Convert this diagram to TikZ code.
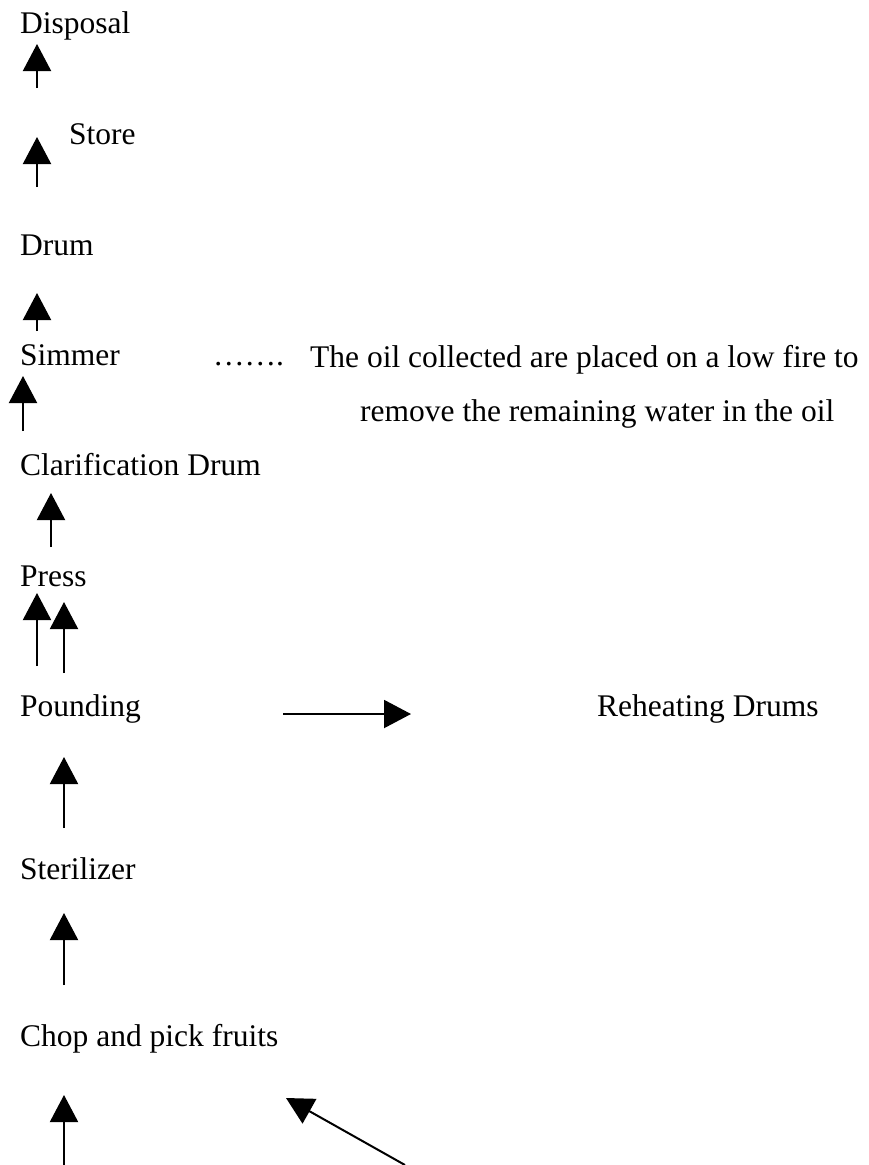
\documentclass[tikz,border=0pt]{standalone}
\usepackage{fontspec}
\setmainfont{Liberation Serif}
\usetikzlibrary{arrows.meta}

\begin{document}
\begin{tikzpicture}[x=1pt, y=-1pt,
    step label/.style={anchor=base west, inner sep=0pt, font=\fontsize{31.5}{38}\selectfont},
    flow/.style={line width=2pt, -{Triangle[width=28pt, length=27pt]}}]

  \useasboundingbox (0,0) rectangle (868,1165);

  % Process steps (bottom to top)
  \node[step label] (disposal) at (20,33)   {Disposal};
  \node[step label] (store)    at (69,144)  {Store};
  \node[step label] (drum)     at (20,255)  {Drum};
  \node[step label] (simmer)   at (20,365)  {Simmer};
  \node[step label] (clarify)  at (20,475)  {Clarification Drum};
  \node[step label] (press)    at (20,586)  {Press};
  \node[step label] (pounding) at (20,716)  {Pounding};
  \node[step label] (sterile)  at (20,879)  {Sterilizer};
  \node[step label] (chop)     at (20,1046) {Chop and pick fruits};

  % Side notes
  \node[step label] (dots)     at (213,365) {…….};
  \node[step label] (noteA)    at (310,367) {The oil collected are placed on a low fire to};
  \node[step label] (noteB)    at (360,421) {remove the remaining water in the oil};
  \node[step label] (reheat)   at (597,716) {Reheating Drums};

  % Upward arrows
  \foreach \i/\x/\tail/\tip in {
    1/37/88/44,
    2/37/187/137,
    3/37/331/293,
    4/23/431/376,
    5/51/547/493,
    6/37/666/593,
    7/64/673/602,
    8/64/828/757,
    9/64/985/913,
    10/64/1165/1095}
  {
    \coordinate (t\i) at (\x,\tail);
    \coordinate (h\i) at (\x,\tip);
    \draw[flow] (t\i) -- (h\i);
  }

  % Side arrows
  \coordinate (sideT) at (283,714);
  \coordinate (sideH) at (411,714);
  \draw[flow] (sideT) -- (sideH);
  \coordinate (slantT) at (405,1165);
  \coordinate (slantH) at (286,1098);
  \draw[flow] (slantT) -- (slantH);

\end{tikzpicture}
\end{document}
